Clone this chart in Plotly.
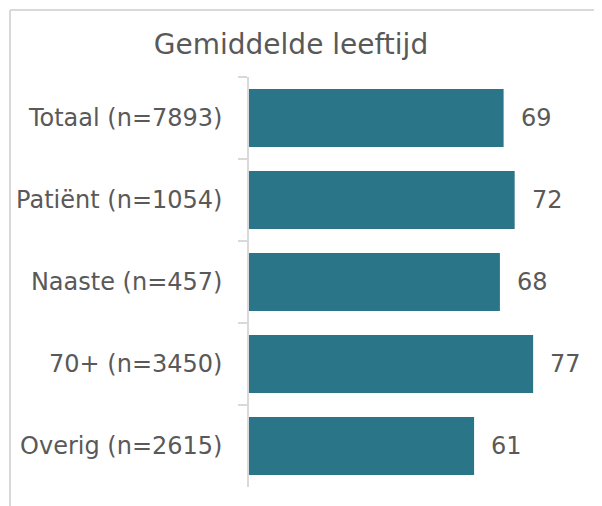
import plotly.graph_objects as go

categories = ["Totaal (n=7893)", "Patiënt (n=1054)", "Naaste (n=457)", "70+ (n=3450)", "Overig (n=2615)"]
values = [69, 72, 68, 77, 61]
title_text = "Gemiddelde leeftijd"

BAR = "#2B7588"
TXT = "#595959"
FONT = "DejaVu Sans"

OFF = 8  # page body margin
W, H = 602 - OFF, 506 - OFF
L, R, T, B = 249 - OFF, 10, 77 - OFF, 19
pw, ph = W - L - R, H - T - B

fig = go.Figure(go.Bar(
    x=values, y=categories, orientation="h",
    marker=dict(color=BAR, line=dict(width=0)),
    hoverinfo="skip",
))

for c, v in zip(categories, values):
    fig.add_annotation(x=v, y=c, text=str(v), showarrow=False,
                       xanchor="left", yanchor="middle", xshift=15,
                       font=dict(family=FONT, size=24, color=TXT))

def px_to_paper_x(px):
    return (px - OFF - L) / pw

def px_to_paper_y(py):
    return (H - B - (py - OFF)) / ph

frame = dict(color="#D9D9D9", width=2)
fig.add_shape(type="line", xref="paper", yref="paper",
              x0=px_to_paper_x(10), x1=px_to_paper_x(10),
              y0=px_to_paper_y(10), y1=px_to_paper_y(520), line=frame)
fig.add_shape(type="line", xref="paper", yref="paper",
              x0=px_to_paper_x(10), x1=px_to_paper_x(620),
              y0=px_to_paper_y(10), y1=px_to_paper_y(10), line=frame)

fig.update_layout(
    template="none",
    width=W, height=H,
    margin=dict(l=L, r=R, t=T, b=B, pad=0, autoexpand=False),
    paper_bgcolor="white", plot_bgcolor="white",
    bargap=0.293,
    showlegend=False,
    title=dict(text=title_text, x=(291 - OFF) / W, xanchor="center",
               y=1 - (44 - OFF) / H, yanchor="middle",
               font=dict(family=FONT, size=28, color=TXT)),
    xaxis=dict(range=[0, pw / 3.69], visible=False, fixedrange=True,
               automargin=False),
    yaxis=dict(autorange="reversed", type="category", automargin=False,
               showline=True, linecolor="#D9D9D9", linewidth=1.5,
               ticks="outside", ticklen=9, tickcolor="#D9D9D9", tickwidth=1.5,
               tickson="boundaries", ticklabelstandoff=20,
               showgrid=False, zeroline=False,
               tickfont=dict(family=FONT, size=24, color=TXT)),
)

fig.write_html("out.html")
